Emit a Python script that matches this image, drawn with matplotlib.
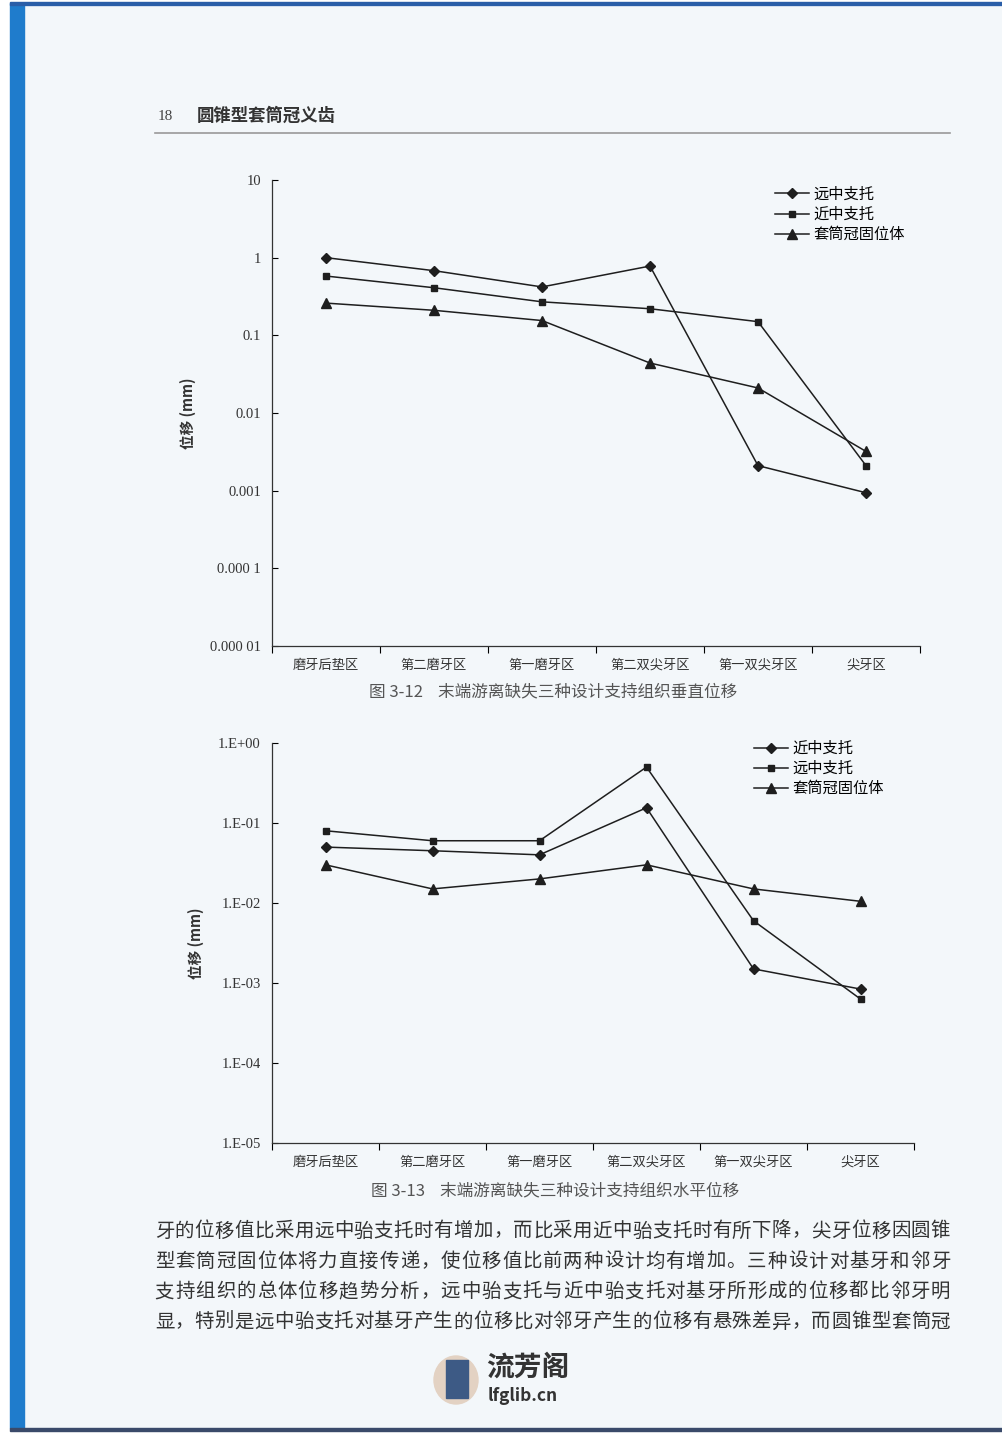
import numpy as np
import matplotlib.pyplot as plt
from matplotlib.patches import Rectangle, Ellipse

plt.rcParams['font.family'] = ['Noto Sans CJK SC', 'DejaVu Sans']

# ---------------------------------------------------------------
# data

zones = ["磨牙后垫区", "第二磨牙区", "第一磨牙区", "第二双尖牙区", "第一双尖牙区", "尖牙区"]

# 图 3-12 垂直位移 (mm)
v_far = [1.0, 0.68, 0.42, 0.78, 0.0021, 0.00094]
v_near = [0.58, 0.41, 0.27, 0.22, 0.15, 0.0021]
v_tele = [0.26, 0.21, 0.155, 0.044, 0.021, 0.0032]
v_names = ["远中支托", "近中支托", "套筒冠固位体"]
v_ticks = [1e-5, 1e-4, 1e-3, 1e-2, 1e-1, 1, 10]
v_ticklabels = ["0.000 01", "0.000 1", "0.001", "0.01", "0.1", "1", "10"]

# 图 3-13 水平位移 (mm)
h_near = [0.05, 0.045, 0.04, 0.155, 0.0015, 0.00084]
h_far = [0.08, 0.06, 0.06, 0.5, 0.006, 0.00063]
h_tele = [0.03, 0.015, 0.02, 0.03, 0.015, 0.0105]
h_names = ["近中支托", "远中支托", "套筒冠固位体"]
h_ticks = [1e-5, 1e-4, 1e-3, 1e-2, 1e-1, 1]
h_ticklabels = ["1.E-05", "1.E-04", "1.E-03", "1.E-02", "1.E-01", "1.E+00"]

body = [
    "牙的位移值比采用远中骀支托时有增加，而比采用近中骀支托时有所下降，尖牙位移因圆锥",
    "型套筒冠固位体将力直接传递，使位移值比前两种设计均有增加。三种设计对基牙和邻牙",
    "支持组织的总体位移趋势分析，远中骀支托与近中骀支托对基牙所形成的位移都比邻牙明",
    "显，特别是远中骀支托对基牙产生的位移比对邻牙产生的位移有悬殊差异，而圆锥型套筒冠",
]

# ---------------------------------------------------------------
W, H = 1002, 1435
page = "#f3f7fa"
ink = "#1e1e1e"
fig = plt.figure(figsize=(W / 100, H / 100), dpi=100)
fig.patch.set_facecolor("white")


def fx(px):
    return px / W


def fy(py):
    return 1 - py / H


# page, blue book edge
fig.patches.append(Rectangle((fx(24), fy(1428)), fx(978), (1428 - 7) / H,
                             transform=fig.transFigure, color=page, zorder=-5))
fig.patches.append(Rectangle((fx(10), fy(1428)), fx(14), (1428 - 3) / H,
                             transform=fig.transFigure, color="#1f7ccc", zorder=-5))
fig.patches.append(Rectangle((fx(10), fy(5)), fx(992), 3 / H,
                             transform=fig.transFigure, color="#2a5ea8", zorder=-5))
fig.patches.append(Rectangle((fx(10), fy(1431)), fx(992), 3 / H,
                             transform=fig.transFigure, color="#3a4a6a", zorder=-5))

# header
fig.text(fx(158), fy(116), "18", fontsize=11, family="Liberation Serif", color="#444", va="center")
fig.text(fx(197), fy(116), "圆锥型套筒冠义齿", fontsize=12.5, color="#333", va="center", weight="bold")
fig.add_artist(plt.Line2D([fx(155), fx(950)], [fy(133), fy(133)], color="#999", lw=1.2))


def draw(ax, series, names, markers, ticks, ticklabels, ylim, legend_at):
    x = np.arange(len(zones))
    for vals, name, m, ms in zip(series, names, markers, [5.5, 5, 6.5]):
        ax.plot(x, vals, color=ink, lw=1.1, marker=m, ms=ms, label=name)
    ax.set_yscale("log")
    ax.set_ylim(*ylim)
    ax.set_xlim(-0.5, len(zones) - 0.5)
    ax.set_yticks(ticks)
    ax.set_yticklabels(ticklabels, family="Liberation Serif", fontsize=10.5, color="#333")
    ax.yaxis.set_minor_locator(plt.NullLocator())
    ax.tick_params(axis="y", direction="in", length=4, width=0.8, pad=8)
    ax.set_xticks(x)
    ax.set_xticklabels(zones, fontsize=9.5, color="#333")
    ax.set_xticks(np.arange(-0.5, len(zones), 1), minor=True)
    ax.tick_params(axis="x", which="major", length=0, pad=9)
    ax.tick_params(axis="x", which="minor", direction="out", length=5, width=0.8)
    for s in ["top", "right"]:
        ax.spines[s].set_visible(False)
    for s in ["left", "bottom"]:
        ax.spines[s].set_color("#333")
        ax.spines[s].set_linewidth(0.9)
    ax.set_facecolor("none")
    ax.set_zorder(5)
    ax.set_ylabel("位移 (mm)", fontsize=10.5, color="#333", labelpad=10, weight="bold")
    ax.legend(loc="upper left", bbox_to_anchor=legend_at, frameon=False, fontsize=11,
              handlelength=2.2, handletextpad=0.3, labelspacing=0.2)


ax1 = fig.add_axes([fx(272), fy(646), fx(920 - 272), (646 - 180) / H])
draw(ax1, [v_far, v_near, v_tele], v_names, ["D", "s", "^"], v_ticks, v_ticklabels,
     (1e-5, 10), (0.755, 1.017))

ax2 = fig.add_axes([fx(272), fy(1143), fx(914 - 272), (1143 - 743) / H])
draw(ax2, [h_near, h_far, h_tele], h_names, ["D", "s", "^"], h_ticks, h_ticklabels,
     (1e-5, 1), (0.73, 1.042))

# captions
fig.text(fx(553), fy(692), "图 3-12    末端游离缺失三种设计支持组织垂直位移", fontsize=12,
         color="#555", ha="center", va="center")
fig.text(fx(555), fy(1191), "图 3-13    末端游离缺失三种设计支持组织水平位移", fontsize=12,
         color="#555", ha="center", va="center")

# body text, justified between x=155 and x=950
for i, line in enumerate(body):
    n = len(line)
    step = (950 - 155 - 19) / (n - 1)
    for j, ch in enumerate(line):
        fig.text(fx(155 + 9.5 + j * step), fy(1231 + i * 30.3), ch, fontsize=14,
                 color="#333", va="center", ha="center")

# watermark
fig.patches.append(Ellipse((fx(456), fy(1380)), fx(44), 48 / H, transform=fig.transFigure,
                           color="#e3d2c3", zorder=1))
fig.patches.append(Rectangle((fx(446), fy(1398)), fx(22), 38 / H, transform=fig.transFigure,
                             color="#3d5a85", zorder=2))
fig.text(fx(486), fy(1368), "流芳阁", fontsize=20, color="#333", va="center", weight="bold")
fig.text(fx(488), fy(1396), "lfglib.cn", fontsize=12.5, color="#333", va="center", weight="bold")

fig.savefig("out.png", dpi=100, facecolor=fig.get_facecolor())
